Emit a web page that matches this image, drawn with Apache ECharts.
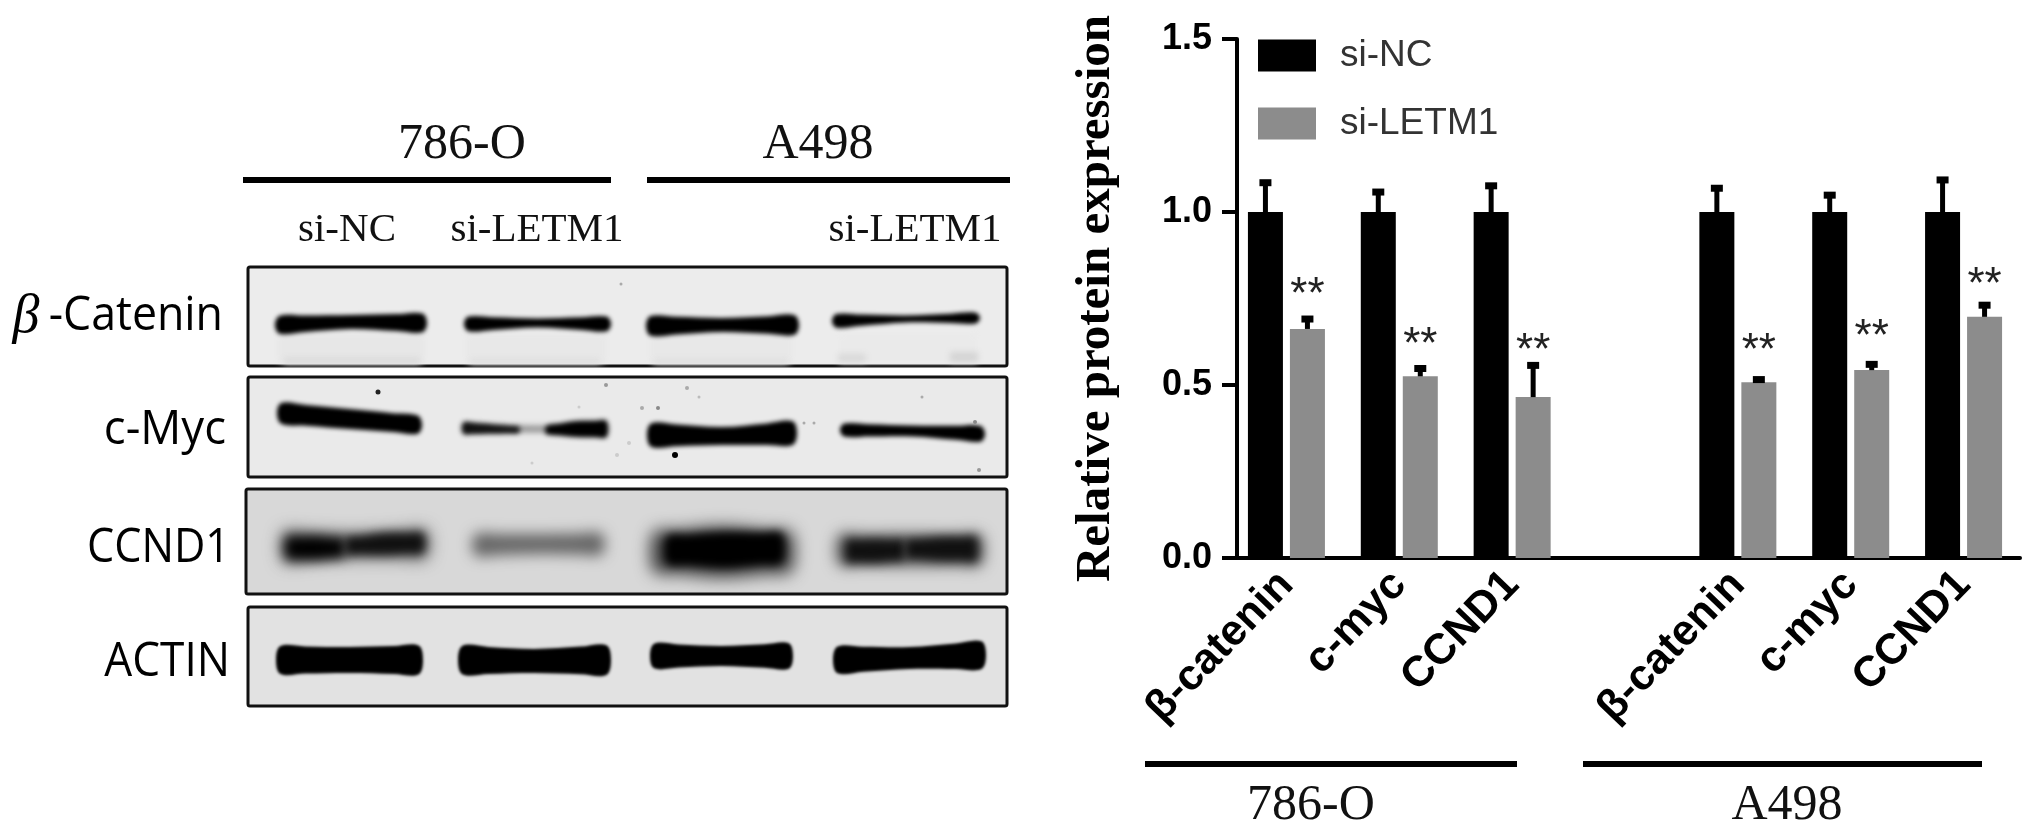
<!DOCTYPE html>
<html>
<head>
<meta charset="utf-8">
<style>
html, body { margin: 0; padding: 0; background: #fff; }
#main { width: 2031px; height: 836px; }
</style>
<script src="https://cdn.jsdelivr.net/npm/echarts@6/dist/echarts.min.js"></script>
</head>
<body>
<div id="main"></div>
<script>
var categories = ['β-catenin', 'c-myc', 'CCND1', '', 'β-catenin', 'c-myc', 'CCND1'];
var siNcValues = [1.0, 1.0, 1.0, null, 1.0, 1.0, 1.0];
var siNcErrorTops = [1.089, 1.062, 1.08, null, 1.073, 1.053, 1.097];
var siLetm1Values = [0.662, 0.525, 0.465, null, 0.508, 0.543, 0.697];
var siLetm1ErrorTops = [0.695, 0.552, 0.561, null, 0.52, 0.564, 0.735];
var starLevels = [0.772, 0.627, 0.611, null, 0.611, 0.652, 0.8];
var yTicks = [0, 0.5, 1.0, 1.5];

var BAR_SHIFT = 21;
var SERIF = '"Liberation Serif", serif';
var SANS = '"Liberation Sans", Arial, sans-serif';
var BLOT_FONT = '"Open Sans", "Noto Sans", sans-serif';
var OFF = 3000; // shapes are drawn off page, only their blurred shadow lands on it

// blot panels: x, y, w, h, background
var panels = [
    [248, 267, 759, 99, '#ececec'],
    [248, 377, 759, 100, '#eaeaea'],
    [246, 489, 761, 105, '#d8d8d8'],
    [248, 607, 759, 99, '#e2e2e2']
];
// bands: x0, x1, yLeft, yMid, yRight, hLeft, hMid, hRight, blur, colour
var bands = [
    // beta-catenin
    [275, 427, 325, 322, 323, 18, 14, 19, 4, '#000'],
    [464, 611, 324, 323, 324, 15, 9, 15, 4, '#000'],
    [646, 799, 326, 325, 325, 20, 14, 20, 4, '#000'],
    [832, 980, 321, 319, 318, 14, 7, 11, 4, '#000'],
    // c-myc
    [277, 422, 413, 419, 425, 21, 20, 18, 4, '#000'],
    [462, 608, 428, 429, 429, 8, 5, 8, 6, '#777'],
    [462, 520, 428, 429, 430, 12, 9, 6, 5, '#111'],
    [545, 608, 430, 429, 429, 8, 16, 17, 5, '#000'],
    [647, 797, 435, 436, 433, 24, 18, 24, 4, '#000'],
    [840, 985, 430, 431, 434, 13, 11, 16, 4, '#000'],
    // CCND1
    [280, 430, 547, 546, 544, 32, 26, 30, 16, '#666'],
    [285, 345, 548, 548, 548, 22, 24, 18, 12, '#000'],
    [345, 425, 546, 544, 543, 16, 22, 20, 10, '#111'],
    [472, 605, 545, 544, 544, 22, 20, 22, 14, '#666'],
    [650, 795, 552, 552, 552, 40, 52, 40, 16, '#444'],
    [664, 785, 550, 550, 548, 28, 36, 30, 8, '#000'],
    [835, 985, 550, 550, 550, 32, 34, 32, 14, '#666'],
    [845, 905, 551, 551, 550, 22, 24, 20, 10, '#111'],
    [905, 978, 549, 549, 549, 18, 24, 24, 10, '#111'],
    // actin
    [276, 423, 660, 660, 660, 28, 26, 29, 3, '#000'],
    [458, 611, 660, 661, 660, 29, 24, 30, 3, '#000'],
    [650, 793, 656, 656, 656, 25, 20, 26, 3, '#000'],
    [833, 986, 660, 658, 655, 27, 22, 28, 3, '#000']
];
// paler patch under the beta-catenin row: x0, x1, y0, y1, colour
var hazes = [
    [278, 424, 334, 362, '#e7e7e7'], [466, 606, 334, 362, '#e8e8e8'],
    [650, 792, 334, 362, '#e8e8e8'], [840, 976, 334, 362, '#eaeaea'],
    [284, 420, 358, 364, '#d8d8d8'], [470, 600, 359, 364, '#dcdcdc'],
    [654, 788, 359, 364, '#dddddd'], [838, 866, 354, 362, '#d8d8d8'], [950, 978, 352, 362, '#d4d4d4']
];
var specks = [
    [378, 392, 2.5, '#222'], [675, 455, 3, '#000'], [621, 284, 1.5, '#aaa'], [606, 385, 2, '#999'],
    [687, 388, 2, '#aaa'], [642, 408, 2, '#aaa'], [658, 408, 2, '#888'], [699, 397, 1.5, '#bbb'],
    [629, 443, 2, '#ccc'], [617, 455, 2, '#ccc'], [922, 397, 1.5, '#aaa'], [979, 470, 2, '#999'],
    [975, 422, 2, '#888'], [804, 423, 1.5, '#aaa'], [814, 423, 1.5, '#aaa'], [579, 407, 1.5, '#ccc'],
    [532, 463, 1.5, '#ccc']
];
// rules under/over the group names: x0, x1, y
var rules = [[243, 611, 180], [647, 1010, 180], [1145, 1517, 764], [1583, 1982, 764]];
// text: string, cx, cy, size
var serifTexts = [
    ['786-O', 462, 145, 50], ['A498', 818, 145, 50],
    ['si-NC', 347, 230, 41], ['si-LETM1', 537, 230, 41], ['si-LETM1', 915, 230, 41],
    ['786-O', 1311, 806, 50], ['A498', 1787, 806, 50]
];
// text: string, right edge, cy, horizontal squeeze
var blotLabels = [
    ['-Catenin', 223, 316, 0.93], ['c-Myc', 226, 430, 0.95], ['CCND1', 230, 548, 0.9], ['ACTIN', 230, 662, 0.92]
];

function lerp3(a, b, c, t) {
    return t < 0.5 ? a + (b - a) * t * 2 : b + (c - b) * (t - 0.5) * 2;
}

function bandGraphic(b) {
    var steps = [0.03, 0.2, 0.5, 0.8, 0.97];
    var top = [], bottom = [];
    var w = b[1] - b[0];
    steps.forEach(function(t) {
        var x = b[0] + w * t - OFF;
        var y = lerp3(b[2], b[3], b[4], t);
        var h = lerp3(b[5], b[6], b[7], t);
        top.push([x, y - h / 2]);
        bottom.unshift([x, y + h / 2]);
    });
    var pts = [[b[0] - OFF, b[2]]].concat(top, [[b[1] - OFF, b[4]]], bottom);
    return {
        type: 'polygon',
        shape: { points: pts, smooth: 0.35 },
        style: { fill: b[9], shadowBlur: b[8], shadowColor: b[9], shadowOffsetX: OFF }
    };
}

var blotGraphics = [];
panels.forEach(function(p) {
    blotGraphics.push({
        type: 'rect',
        shape: { x: p[0], y: p[1], width: p[2], height: p[3], r: 2 },
        style: { fill: p[4], stroke: '#111', lineWidth: 3 }
    });
});
hazes.forEach(function(g) {
    blotGraphics.push({
        type: 'rect',
        shape: { x: g[0] - OFF, y: g[2], width: g[1] - g[0], height: g[3] - g[2] },
        style: { fill: g[4], shadowBlur: 6, shadowColor: g[4], shadowOffsetX: OFF }
    });
});
bands.forEach(function(b) { blotGraphics.push(bandGraphic(b)); });
specks.forEach(function(s) {
    blotGraphics.push({
        type: 'circle',
        shape: { cx: s[0], cy: s[1], r: s[2] },
        style: { fill: s[3] }
    });
});
rules.forEach(function(r) {
    blotGraphics.push({
        type: 'rect',
        shape: { x: r[0], y: r[2] - 3, width: r[1] - r[0], height: 6 },
        style: { fill: '#000' }
    });
});
serifTexts.forEach(function(t) {
    blotGraphics.push({
        type: 'text',
        x: t[1], y: t[2],
        style: { text: t[0], font: t[3] + 'px ' + SERIF, fill: '#111', align: 'center', verticalAlign: 'middle' }
    });
});
blotLabels.forEach(function(t) {
    blotGraphics.push({
        type: 'text',
        x: t[1], y: t[2], scaleX: t[3],
        style: { text: t[0], font: '48px ' + BLOT_FONT, fill: '#000', align: 'right', verticalAlign: 'middle' }
    });
});
blotGraphics.push({
    type: 'text', x: 26, y: 318,
    style: { text: 'β', font: 'italic 54px ' + SERIF, fill: '#000', align: 'center', verticalAlign: 'middle' }
});

function errorSeriesData(tops, values) {
    var res = [];
    for (var i = 0; i < tops.length; i++) {
        if (tops[i] !== null) {
            res.push([i, tops[i], values[i]]);
        }
    }
    return res;
}

function renderError(shift) {
    return function(params, api) {
        var top = api.coord([api.value(0), api.value(1)]);
        var base = api.coord([api.value(0), api.value(2)]);
        var x = top[0] + shift;
        return {
            type: 'group',
            children: [{
                type: 'line',
                shape: { x1: x, y1: top[1], x2: x, y2: base[1] },
                style: { stroke: '#000', lineWidth: 5 }
            }, {
                type: 'rect',
                shape: { x: x - 6, y: top[1] - 2, width: 12, height: 7 },
                style: { fill: '#000' }
            }]
        };
    };
}

var starData = [];
starLevels.forEach(function(v, i) {
    if (v !== null) {
        starData.push([i, v]);
    }
});

var chart = echarts.init(document.getElementById('main'));

var option = {
    backgroundColor: '#fff',
    animation: false,
    graphic: blotGraphics,
    legend: {
        orient: 'vertical',
        left: 1253,
        top: 32,
        icon: 'rect',
        itemWidth: 58,
        itemHeight: 32,
        itemGap: 31,
        data: ['si-NC', 'si-LETM1'],
        textStyle: { fontFamily: SANS, fontSize: 37, color: '#333', padding: [0, 0, 0, 19] }
    },
    grid: { left: 1230, top: 39, width: 790, height: 519 },
    xAxis: {
        type: 'category',
        data: categories,
        axisLine: { lineStyle: { color: '#000', width: 4 } },
        axisTick: { alignWithLabel: true, length: 15, lineStyle: { color: '#000', width: 4 } },
        axisLabel: { interval: 0, rotate: 46, margin: 20, fontFamily: SANS, fontWeight: 'bold', fontSize: 43, color: '#000' }
    },
    yAxis: {
        type: 'value',
        min: 0,
        max: 1.5,
        interval: 0.5,
        offset: -7,
        name: 'Relative protein expression',
        nameLocation: 'middle',
        nameGap: 116,
        nameTextStyle: { fontFamily: SERIF, fontWeight: 'bold', fontSize: 49, color: '#000' },
        splitLine: { show: false },
        axisLine: { show: true, lineStyle: { color: '#000', width: 4 } },
        axisTick: { show: true, length: 15, lineStyle: { color: '#000', width: 4 } },
        axisLabel: {
            margin: 25,
            fontFamily: SANS,
            fontWeight: 'bold',
            fontSize: 36,
            color: '#000',
            formatter: function(v) { return yTicks.indexOf(v) >= 0 ? v.toFixed(1) : ''; }
        }
    },
    series: [{
        name: 'si-NC',
        type: 'bar',
        barWidth: 35,
        barGap: '20%',
        itemStyle: { color: '#000' },
        data: siNcValues
    }, {
        name: 'si-LETM1',
        type: 'bar',
        barWidth: 35,
        itemStyle: { color: '#8c8c8c' },
        data: siLetm1Values
    }, {
        type: 'custom',
        silent: true,
        clip: false,
        renderItem: renderError(-BAR_SHIFT),
        encode: { x: 0, y: 1 },
        data: errorSeriesData(siNcErrorTops, siNcValues),
        z: 3
    }, {
        type: 'custom',
        silent: true,
        clip: false,
        renderItem: renderError(BAR_SHIFT),
        encode: { x: 0, y: 1 },
        data: errorSeriesData(siLetm1ErrorTops, siLetm1Values),
        z: 3
    }, {
        type: 'custom',
        silent: true,
        clip: false,
        renderItem: function(params, api) {
            var p = api.coord([api.value(0), api.value(1)]);
            return {
                type: 'text',
                x: p[0] + BAR_SHIFT,
                y: p[1] + 5,
                style: { text: '**', font: '44px ' + SANS, fill: '#222', align: 'center', verticalAlign: 'middle' }
            };
        },
        encode: { x: 0, y: 1 },
        data: starData,
        z: 3
    }]
};
chart.setOption(option);
</script>
</body>
</html>
